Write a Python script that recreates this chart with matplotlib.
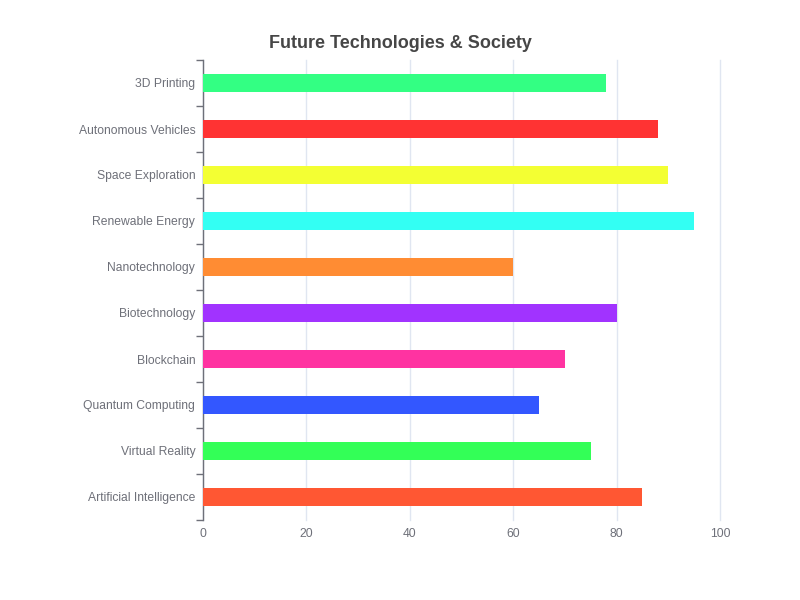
import matplotlib
matplotlib.use("Agg")
import matplotlib.pyplot as plt
import numpy as np

plt.rcParams['font.family'] = ['Liberation Sans', 'DejaVu Sans']

categories = ["Artificial Intelligence", "Virtual Reality", "Quantum Computing", "Blockchain",
              "Biotechnology", "Nanotechnology", "Renewable Energy", "Space Exploration",
              "Autonomous Vehicles", "3D Printing"]
values = [85, 75, 65, 70, 80, 60, 95, 90, 88, 78]
colors = ["#FF5733", "#33FF57", "#3357FF", "#FF33A1", "#A133FF", "#FF8C33",
          "#33FFF3", "#F3FF33", "#FF3333", "#33FF83"]
xticks = [0, 20, 40, 60, 80, 100]

fig = plt.figure(figsize=(8, 6), dpi=100)
ax = fig.add_axes([203/800, 1-520/600, (720-203)/800, (520-60)/600])

y = np.arange(len(categories))
ax.barh(y, values, height=0.4, color=colors, edgecolor='none', zorder=3)

ax.set_xlim(0, 100)
ax.set_ylim(-0.5, len(categories)-0.5)
ax.set_xticks(xticks)
ax.set_xticklabels([str(v) for v in xticks])
ax.set_yticks(y)
ax.set_yticklabels(categories)
ax.set_yticks(np.arange(-0.5, len(categories), 1), minor=True)

ax.grid(axis='x', color='#E0E6F1', linewidth=1, zorder=0)
for gl in ax.get_xgridlines():
    gl.set_clip_on(False)
for s in ['top', 'right', 'bottom']:
    ax.spines[s].set_visible(False)
ax.spines['left'].set_color('#6E7079')
ax.spines['left'].set_linewidth(1)

ax.tick_params(axis='y', which='major', length=0, pad=5.5, labelsize=8.7, labelcolor='#6E7079')
ax.tick_params(axis='y', which='minor', length=5, color='#6E7079', width=1)
ax.tick_params(axis='x', length=0, pad=6, labelsize=8.7, labelcolor='#6E7079')

fig.text(0.5, 1-43/600, "Future Technologies & Society", ha='center', va='center',
         fontsize=13, fontweight='bold', color='#464646')

fig.savefig("out.png", dpi=100)
